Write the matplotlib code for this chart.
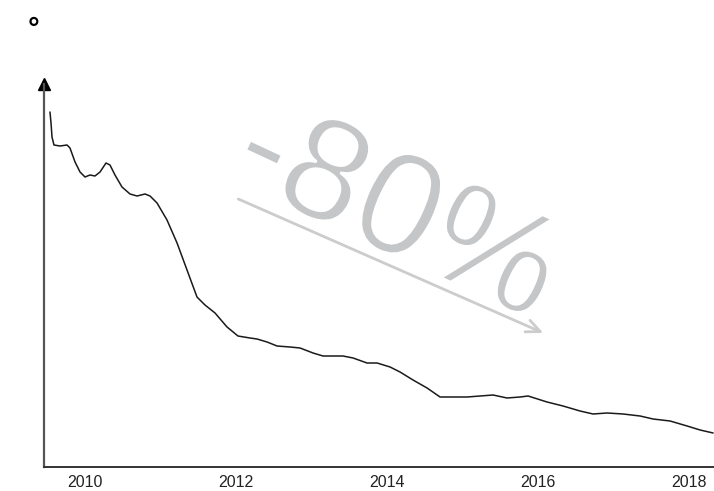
import matplotlib
matplotlib.use("Agg")
import matplotlib.pyplot as plt
import matplotlib.patheffects as pe

# values (unitless index, y axis has no labels)
years = [2009.536, 2009.550, 2009.563, 2009.589, 2009.669, 2009.762, 2009.801, 2009.868,
         2009.934, 2010.000, 2010.066, 2010.132, 2010.199, 2010.278, 2010.331, 2010.397,
         2010.490, 2010.596, 2010.689, 2010.795, 2010.861, 2010.954, 2011.086, 2011.219,
         2011.351, 2011.483, 2011.589, 2011.722, 2011.881, 2012.026, 2012.185, 2012.278,
         2012.411, 2012.543, 2012.715, 2012.848, 2013.020, 2013.152, 2013.417, 2013.550,
         2013.735, 2013.868, 2014.040, 2014.172, 2014.344, 2014.530, 2014.702, 2015.060,
         2015.232, 2015.404, 2015.589, 2015.762, 2015.868, 2016.119, 2016.331, 2016.556,
         2016.728, 2016.914, 2017.126, 2017.351, 2017.523, 2017.748, 2017.974, 2018.146,
         2018.318]
values = [355, 344, 330, 322, 321, 322, 319, 305,
          295, 290, 292, 291, 295, 304, 302, 292,
          280, 273, 271, 273, 271, 264, 247, 224,
          197, 170, 162, 154, 140, 131, 129, 128,
          125, 121, 120, 119, 114, 111, 111, 109,
          104, 104, 100, 95, 87, 79, 70, 70,
          71, 72, 69, 70, 71, 65, 61, 56,
          53, 54, 53, 51, 48, 46, 41, 37,
          34]
tick_years = [2010, 2012, 2014, 2016, 2018]
label = "-80%"

fig = plt.figure(figsize=(7.14, 4.91), dpi=100)
ax = fig.add_axes([44 / 714, 24 / 491, 1 - 44 / 714, (467 - 84) / 491])

ax.plot(years, values, color="#1a1a1a", lw=1.1, solid_joinstyle="round", solid_capstyle="round")

ax.set_xlim(2009.457, 2018.33)
ax.set_ylim(0, 383)
ax.set_xticks(tick_years)
ax.set_xticklabels([str(y) for y in tick_years],
                   family="Liberation Sans", fontsize=11.5, color="#222222")
ax.tick_params(axis="x", length=0, pad=6)
ax.set_yticks([])

for s in ["top", "right"]:
    ax.spines[s].set_visible(False)
ax.spines["left"].set_color("#555555")
ax.spines["left"].set_linewidth(1.6)
ax.spines["bottom"].set_color("#333333")
ax.spines["bottom"].set_linewidth(1.4)

# arrow head on top of the y axis
ax.plot(0, 1.0, marker="^", color="black", markersize=9, transform=ax.transAxes, clip_on=False)

# big annotation
ax.annotate("", xy=(2016.07, 134), xytext=(2012.03, 268),
            arrowprops=dict(arrowstyle="->,head_length=1.0,head_width=0.45", color="#cccccc",
                            lw=2, shrinkA=0, shrinkB=0))
big = ax.text(2014.12, 252, label, rotation=-25, rotation_mode="anchor", ha="center", va="center",
              fontsize=105, color="#c5c6c8", family="Liberation Sans")
# thin the glyphs a bit, the original uses a light weight
big.set_path_effects([pe.Normal(), pe.Stroke(linewidth=2.2, foreground="white")])

fig.text(34 / 714, 1 - 30 / 491, "°", fontsize=20, fontweight="bold", ha="center", va="center")

fig.savefig("out.png", dpi=100)
